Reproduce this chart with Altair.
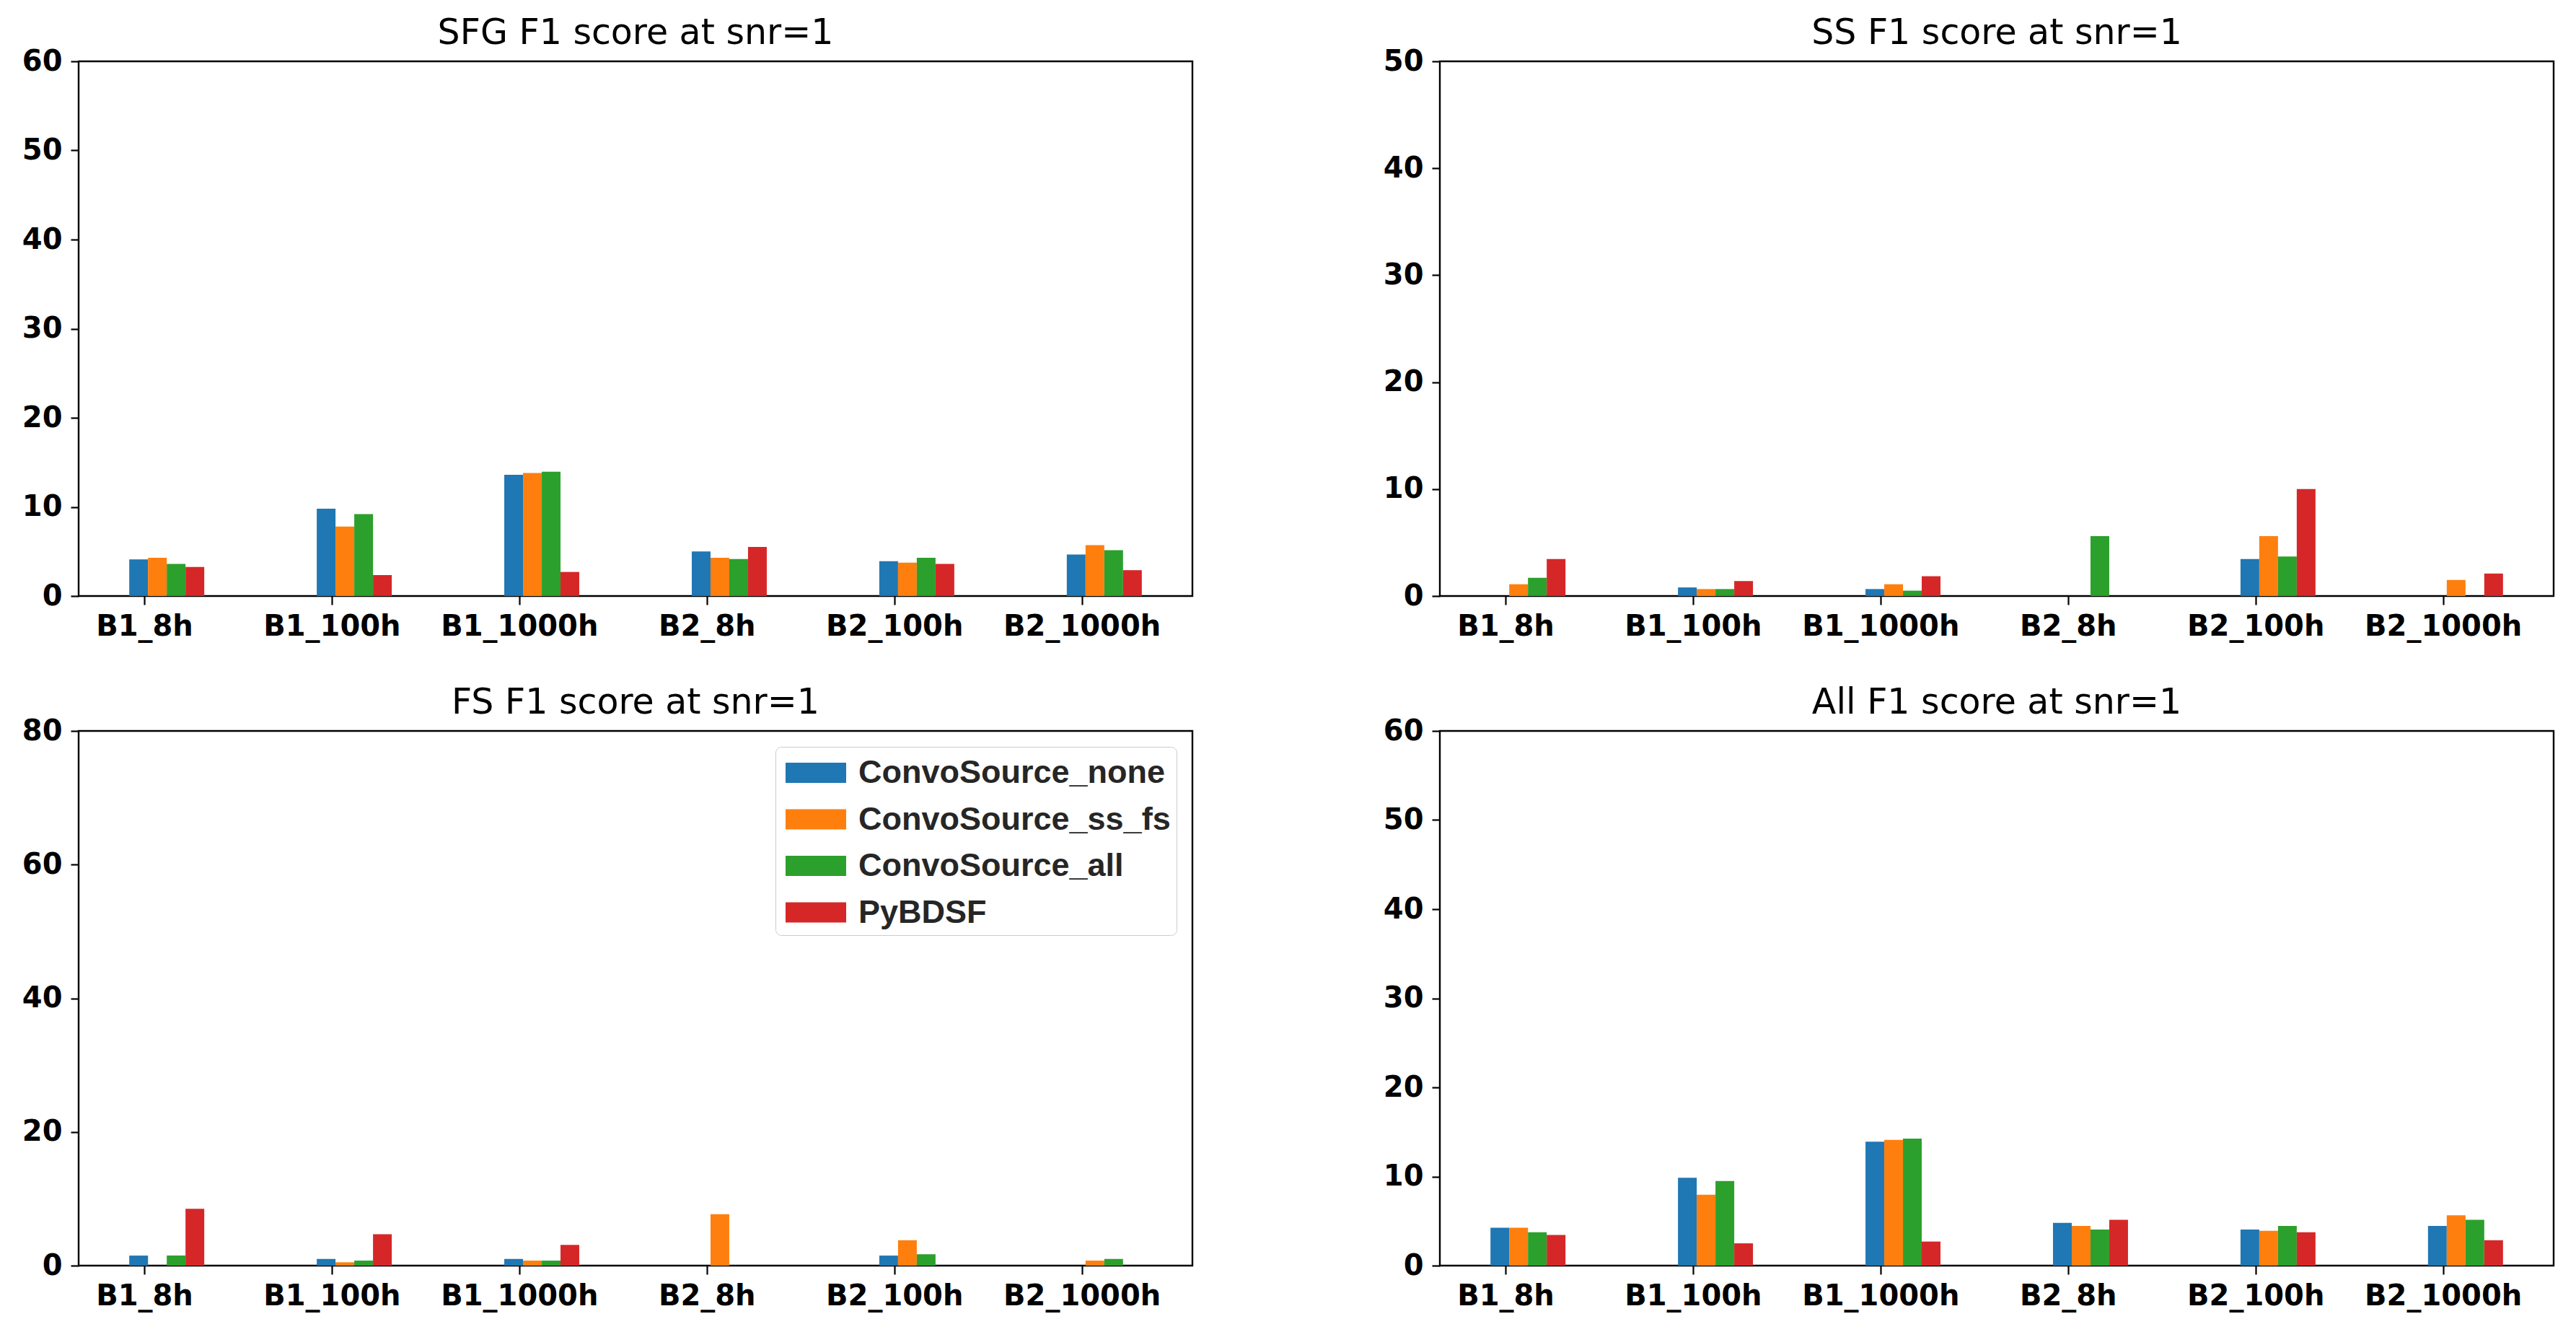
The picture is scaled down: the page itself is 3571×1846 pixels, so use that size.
import json
import altair as alt
import pandas as pd

categories = ["B1_8h", "B1_100h", "B1_1000h", "B2_8h", "B2_100h", "B2_1000h"]
series = ["ConvoSource_none", "ConvoSource_ss_fs", "ConvoSource_all", "PyBDSF"]
colors = ["#1f77b4", "#ff7f0e", "#2ca02c", "#d62728"]

sfg_none = [4.1, 9.8, 13.6, 5.0, 3.9, 4.65]
sfg_ss_fs = [4.3, 7.8, 13.8, 4.3, 3.75, 5.7]
sfg_all = [3.6, 9.2, 13.95, 4.15, 4.3, 5.15]
sfg_pybdsf = [3.25, 2.35, 2.7, 5.5, 3.6, 2.9]

ss_none = [0, 0.8, 0.65, 0, 3.45, 0]
ss_ss_fs = [1.1, 0.65, 1.1, 0, 5.6, 1.5]
ss_all = [1.7, 0.65, 0.5, 5.6, 3.7, 0]
ss_pybdsf = [3.45, 1.4, 1.85, 0, 10.0, 2.1]

fs_none = [1.5, 1.0, 1.0, 0, 1.5, 0]
fs_ss_fs = [0, 0.5, 0.75, 7.7, 3.8, 0.75]
fs_all = [1.5, 0.75, 0.75, 0, 1.7, 1.0]
fs_pybdsf = [8.5, 4.7, 3.1, 0, 0, 0]

all_none = [4.25, 9.85, 13.9, 4.8, 4.05, 4.45]
all_ss_fs = [4.25, 7.95, 14.1, 4.45, 3.9, 5.65]
all_all = [3.75, 9.5, 14.25, 4.05, 4.45, 5.15]
all_pybdsf = [3.45, 2.5, 2.7, 5.15, 3.75, 2.85]

titles = ["SFG F1 score at snr=1", "SS F1 score at snr=1",
          "FS F1 score at snr=1", "All F1 score at snr=1"]
y_max = [60, 50, 80, 60]
y_step = [10, 10, 20, 10]

BAR_W = 0.1
BAR_START = -0.08
n = len(categories)
lo = BAR_START
hi = (n - 1) + BAR_START + BAR_W * len(series)
margin = 0.05 * (hi - lo)
x_domain = [lo - margin, hi + margin]

PW, PH = 1544, 741
label_expr = json.dumps(categories) + "[datum.value]"


def panel(title, values, ymax, ystep, show_legend):
    rows = []
    for si, (s, vals) in enumerate(zip(series, values)):
        for ci, (c, v) in enumerate(zip(categories, vals)):
            rows.append({"cat": c, "ci": ci, "series": s, "si": si, "value": v})
    df = pd.DataFrame(rows)
    if show_legend:
        legend = alt.Legend(
            title=None, orient="top-right", offset=22,
            symbolType="M-0.786,-0.5H2.214V0.5H-0.786Z", symbolSize=3136,
            symbolStrokeWidth=0, symbolOpacity=1,
            labelFont="Liberation Sans", labelFontWeight="bold",
            labelFontSize=45, labelColor="#262626", labelOffset=51,
            labelLimit=1000, rowPadding=13.5, padding=8,
            fillColor="white", strokeColor="#cccccc", cornerRadius=8,
        )
    else:
        legend = None
    return alt.Chart(df).mark_bar().transform_calculate(
        x0=f"datum.ci + ({BAR_START}) + {BAR_W} * datum.si",
        x1=f"datum.ci + ({BAR_START}) + {BAR_W} * (datum.si + 1)",
    ).encode(
        x=alt.X("x0:Q", scale=alt.Scale(domain=x_domain, nice=False, zero=False),
                axis=alt.Axis(values=list(range(n)), labelExpr=label_expr, title=None,
                              grid=False, domain=False, labelAngle=0, tickSize=12,
                              labelPadding=10, labelLimit=1000)),
        x2="x1:Q",
        y=alt.Y("value:Q", scale=alt.Scale(domain=[0, ymax], nice=False),
                axis=alt.Axis(values=list(range(0, ymax + 1, ystep)), title=None,
                              grid=False, domain=False, tickSize=11, labelPadding=12)),
        y2=alt.datum(0),
        color=alt.Color("series:N", scale=alt.Scale(domain=series, range=colors),
                        legend=legend),
    ).properties(
        width=PW, height=PH,
        title=alt.TitleParams(title, font="DejaVu Sans", fontSize=49,
                              fontWeight="normal", color="black", anchor="middle",
                              offset=-55, baseline="bottom"),
    )


p1 = panel(titles[0], [sfg_none, sfg_ss_fs, sfg_all, sfg_pybdsf], y_max[0], y_step[0], False)
p2 = panel(titles[1], [ss_none, ss_ss_fs, ss_all, ss_pybdsf], y_max[1], y_step[1], False)
p3 = panel(titles[2], [fs_none, fs_ss_fs, fs_all, fs_pybdsf], y_max[2], y_step[2], True)
p4 = panel(titles[3], [all_none, all_ss_fs, all_all, all_pybdsf], y_max[3], y_step[3], False)

row1 = alt.hconcat(p1, p2, spacing=261).resolve_scale(color="independent")
row2 = alt.hconcat(p3, p4, spacing=261).resolve_scale(color="independent")

chart = alt.vconcat(row1, row2, spacing=58).resolve_scale(
    color="independent"
).properties(
    padding={"left": 21, "top": 12, "right": 10, "bottom": 10},
    background="white",
).configure_view(
    stroke="black", strokeWidth=2.4
).configure_axis(
    labelFont="DejaVu Sans", labelFontWeight="bold", labelFontSize=40,
    labelColor="black", tickColor="black", tickWidth=2.2,
)

chart.save("out.html", embed_options={"renderer": "svg", "actions": False})
